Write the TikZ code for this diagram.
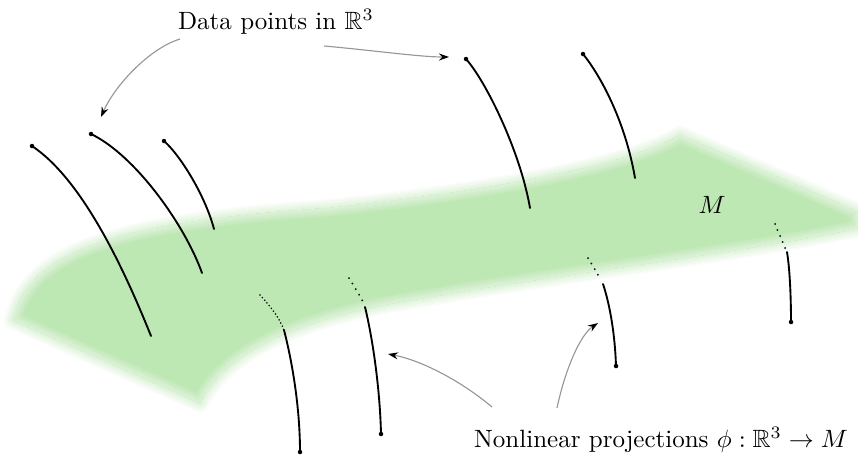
\documentclass[tikz,border=0pt]{standalone}
\usepackage{amssymb}
\usetikzlibrary{arrows.meta}
\definecolor{blobgreen}{RGB}{189,231,179}
\definecolor{arrowgray}{RGB}{150,150,150}
\begin{document}
\begin{tikzpicture}[x=0.4pt,y=-0.4pt,
  fiber/.style={line width=0.75pt, line cap=round},
  dotfib/.style={line width=0.8pt, line cap=round, dash pattern=on 0pt off 2.6pt},
  densedot/.style={line width=0.7pt, line cap=round, dash pattern=on 0pt off 1.4pt},
  pointer/.style={arrowgray, line width=0.45pt, -{Stealth[length=4pt,width=2.8pt,color=black]}},
  enddot/.style={circle, fill=black, inner sep=0pt, minimum size=1.8pt},
]
\useasboundingbox (0,0) rectangle (858,462);
\def\blob{(13,320) .. controls (30,250) and (120,222) .. (330,208) .. controls (500,190) and (630,165) .. (680,135) -- (858,212) -- (858,228) .. controls (760,250) and (520,280) .. (430,297) .. controls (330,312) and (230,340) .. (200,403) -- cycle}
% outer soft edge
\foreach \i [evaluate=\i as \w using {8*(1-\i/24)}, evaluate=\i as \t using {50*\i/24}] in {0,...,23}
  \draw[line width=\w pt, line join=round, color=blobgreen!\t!white] \blob;
% inner body with soft edge
\begin{scope}
  \clip \blob;
  \fill[blobgreen] \blob;
  \foreach \i [evaluate=\i as \w using {8*(1-\i/24)}, evaluate=\i as \t using {100-50*\i/24}] in {0,...,23}
    \draw[line width=\w pt, line join=round, color=blobgreen!\t!white] \blob;
\end{scope}

% labels
\node (data) at (276,22) {Data points in $\mathbb{R}^3$};
\node (proj) at (661,440) {Nonlinear projections $\phi:\mathbb{R}^3\to M$};
\node (M) at (712,205) {$M$};

% upper fibres (data points)
\node[enddot] (p1) at (32,146) {};
\node[enddot] (p2) at (91,134) {};
\node[enddot] (p3) at (164,141) {};
\node[enddot] (p4) at (466,59) {};
\node[enddot] (p5) at (583,54) {};
\coordinate (e1) at (151,336);
\coordinate (e2) at (202,273);
\coordinate (e3) at (214,229);
\coordinate (e4) at (530,208);
\coordinate (e5) at (635,178);
\draw[fiber] (p1.center) .. controls (80,178) and (121,261) .. (e1);
\draw[fiber] (p2.center) .. controls (135,155) and (185,225) .. (e2);
\draw[fiber] (p3.center) .. controls (180,155) and (205,195) .. (e3);
\draw[fiber] (p4.center) .. controls (485,80) and (520,150) .. (e4);
\draw[fiber] (p5.center) .. controls (600,75) and (625,120) .. (e5);

% lower fibres (projections)
\coordinate (s6) at (260,295); \coordinate (m6) at (284,330); \node[enddot] (q6) at (300,452) {};
\coordinate (s7) at (349,278); \coordinate (d7) at (363,302); \coordinate (m7) at (365,307); \node[enddot] (q7) at (381,434) {};
\coordinate (s8) at (588,258); \coordinate (d8) at (600,279); \coordinate (m8) at (603,284); \node[enddot] (q8) at (616,366) {};
\coordinate (s9) at (775,224); \coordinate (d9) at (785,248); \coordinate (m9) at (787,252); \node[enddot] (q9) at (791,322) {};
\draw[densedot] (s6) .. controls (270,306) and (279,317) .. (m6);
\draw[fiber] (m6) .. controls (293,365) and (300,410) .. (q6.center);
\draw[dotfib] (s7) .. controls (354,286) and (359,294) .. (d7);
\draw[fiber] (m7) .. controls (373,340) and (380,390) .. (q7.center);
\draw[dotfib] (s8) .. controls (592,265) and (597,272) .. (d8);
\draw[fiber] (m8) .. controls (610,305) and (615,335) .. (q8.center);
\draw[dotfib] (s9) .. controls (778,232) and (782,240) .. (d9);
\draw[fiber] (m9) .. controls (790,270) and (791,300) .. (q9.center);

% pointers
\coordinate (aA) at (180,39);  \coordinate (tA) at (101,117);
\coordinate (aB) at (324,46);  \coordinate (tB) at (449,57);
\coordinate (aC) at (492,407); \coordinate (tC) at (388,354);
\coordinate (aD) at (557,408); \coordinate (tD) at (598,323);
\draw[pointer] (aA) .. controls (150,48) and (115,85) .. (tA);
\draw[pointer] (aB) .. controls (370,50) and (420,57) .. (tB);
\draw[pointer] (aC) .. controls (460,380) and (420,360) .. (tC);
\draw[pointer] (aD) .. controls (565,370) and (580,335) .. (tD);
\end{tikzpicture}
\end{document}
